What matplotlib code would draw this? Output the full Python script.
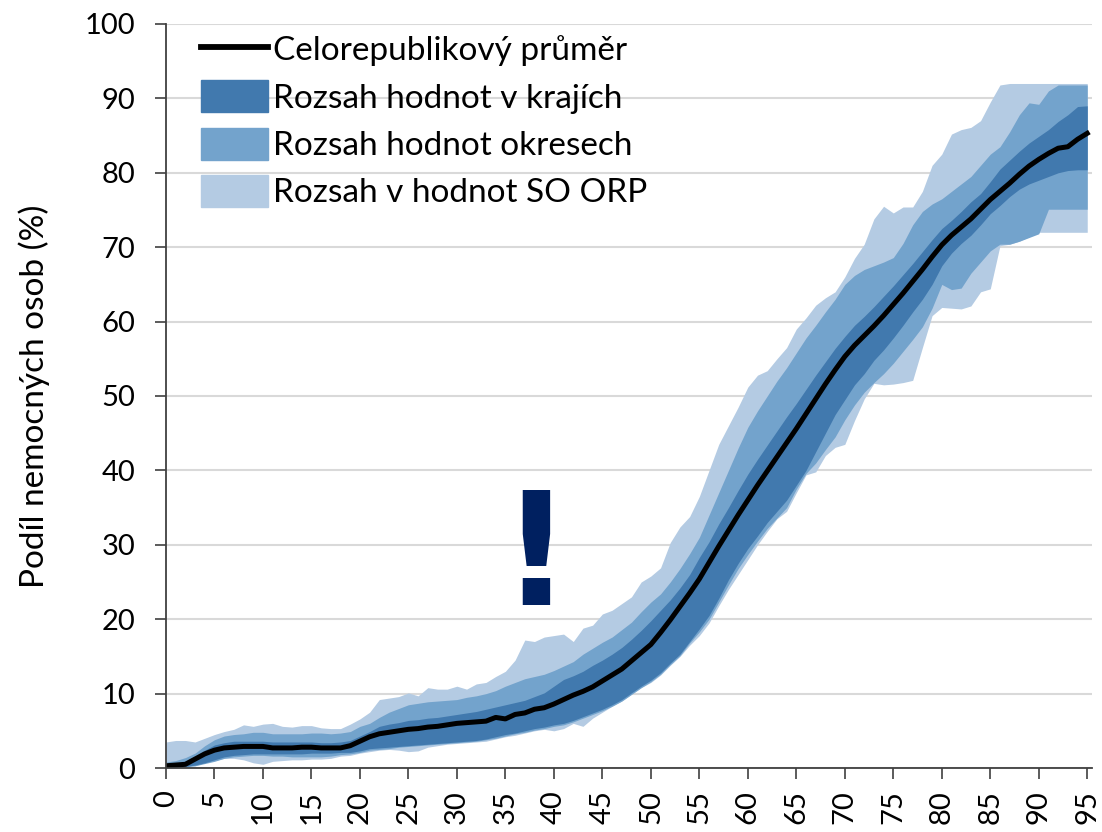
import numpy as np
import matplotlib
matplotlib.use('Agg')
import matplotlib.pyplot as plt
from matplotlib.patches import Patch
from matplotlib.lines import Line2D

# Age 0..95
ages = list(range(96))

mean_cr = [0.3, 0.4, 0.5, 1.2, 1.9, 2.4, 2.7, 2.8, 2.9, 2.9,
           2.9, 2.7, 2.7, 2.7, 2.8, 2.8, 2.7, 2.7, 2.7, 3.0,
           3.6, 4.2, 4.6, 4.8, 5.0, 5.2, 5.3, 5.5, 5.6, 5.8,
           6.0, 6.1, 6.2, 6.3, 6.8, 6.6, 7.2, 7.4, 7.9, 8.1,
           8.6, 9.2, 9.8, 10.3, 10.9, 11.7, 12.5, 13.3, 14.4, 15.5,
           16.6, 18.2, 19.9, 21.7, 23.5, 25.4, 27.6, 29.8, 31.9, 34.0,
           36.0, 38.0, 39.9, 41.8, 43.7, 45.6, 47.6, 49.6, 51.6, 53.5,
           55.3, 56.8, 58.1, 59.4, 60.8, 62.3, 63.8, 65.4, 67.0, 68.7,
           70.3, 71.6, 72.7, 73.8, 75.1, 76.4, 77.5, 78.6, 79.8, 80.9,
           81.8, 82.6, 83.3, 83.5, 84.5, 85.3]

kraj_lo = [0.1, 0.1, 0.2, 0.4, 0.7, 1.1, 1.5, 1.7, 1.8, 1.9,
           1.9, 1.9, 1.9, 1.9, 1.9, 2.0, 2.0, 2.0, 2.1, 2.1,
           2.3, 2.6, 2.7, 2.8, 2.9, 3.0, 3.1, 3.2, 3.3, 3.4,
           3.5, 3.6, 3.7, 3.9, 4.2, 4.5, 4.7, 5.0, 5.3, 5.5,
           5.8, 6.0, 6.4, 6.9, 7.4, 7.9, 8.5, 9.2, 10.1, 11.0,
           11.8, 12.8, 14.1, 15.3, 17.0, 18.7, 20.5, 22.8, 25.3, 27.5,
           29.5, 31.2, 33.0, 34.5, 36.0, 38.0, 40.0, 42.5, 45.0, 47.5,
           49.5, 51.5, 53.0, 54.8, 56.2, 57.8, 59.5, 61.3, 63.0, 65.0,
           67.5, 69.2, 70.5, 71.6, 73.0, 74.5, 75.6, 76.8, 77.8, 78.5,
           79.0, 79.5, 80.0, 80.3, 80.4, 80.4]

kraj_hi = [0.5, 0.6, 0.9, 1.6, 2.4, 3.1, 3.4, 3.6, 3.6, 3.6,
           3.6, 3.5, 3.5, 3.5, 3.5, 3.5, 3.4, 3.4, 3.5, 3.7,
           4.3, 4.9, 5.6, 5.9, 6.1, 6.4, 6.5, 6.7, 6.8, 7.0,
           7.2, 7.4, 7.6, 7.9, 8.2, 8.5, 8.8, 9.1, 9.6, 10.1,
           11.0, 11.9, 12.4, 13.0, 13.8, 14.5, 15.3, 16.2, 17.3, 18.5,
           19.8, 21.2, 22.6, 24.2, 26.0, 28.3, 30.4, 32.8, 35.0, 37.3,
           39.5, 41.5, 43.4, 45.3, 47.2, 49.0, 50.9, 52.8, 54.6, 56.4,
           58.0, 59.5, 60.7, 62.0, 63.4, 64.8, 66.3, 67.8, 69.4, 71.0,
           72.5, 73.6, 74.8, 76.1, 77.2, 78.8, 80.5, 81.7, 82.9, 84.0,
           84.9, 85.8, 86.9, 87.8, 88.9, 89.0]

okres_lo = [0.0, 0.1, 0.2, 0.3, 0.6, 0.9, 1.3, 1.5, 1.6, 1.7,
            1.7, 1.6, 1.6, 1.5, 1.5, 1.5, 1.5, 1.6, 1.8, 1.9,
            2.1, 2.4, 2.5, 2.6, 2.8, 2.9, 3.0, 3.1, 3.2, 3.3,
            3.4, 3.5, 3.6, 3.8, 4.0, 4.3, 4.6, 4.8, 5.1, 5.3,
            5.6, 5.8, 6.2, 6.7, 7.2, 7.7, 8.3, 9.0, 9.9, 10.8,
            11.6, 12.6, 13.9, 15.1, 16.8, 18.3, 20.0, 22.3, 24.6, 26.8,
            28.7, 30.5, 32.2, 33.6, 35.0, 37.5, 39.6, 41.0, 42.8, 44.5,
            46.8, 48.8, 50.5, 51.8, 53.0, 54.4, 56.0, 57.6, 59.3, 61.8,
            65.0, 64.3, 64.5, 66.5, 68.0, 69.5, 70.4, 70.4, 70.8, 71.3,
            71.8, 75.1, 75.1, 75.1, 75.1, 75.1]

okres_hi = [0.8, 1.0, 1.4, 2.0, 3.0, 3.8, 4.3, 4.5, 4.6, 4.8,
            4.8, 4.6, 4.6, 4.6, 4.6, 4.7, 4.7, 4.6, 4.7, 4.9,
            5.6, 6.0, 6.8, 7.5, 8.0, 8.5, 8.7, 8.9, 9.0, 9.1,
            9.2, 9.5, 9.7, 10.0, 10.4, 11.0, 11.5, 12.0, 12.3, 12.6,
            13.1, 13.7, 14.3, 15.3, 16.1, 16.9, 17.6, 18.6, 19.6, 21.0,
            22.3, 23.4, 25.0, 26.8, 28.8, 31.0, 34.0, 37.0, 40.0, 43.0,
            45.8, 48.0, 50.0, 52.0, 53.8, 55.8, 57.8, 59.5, 61.3, 63.0,
            65.0, 66.2, 67.0, 67.5, 68.0, 68.6, 70.5, 73.0, 74.8, 75.8,
            76.5, 77.5, 78.5, 79.5, 81.0, 82.5, 83.5, 85.5, 87.8, 89.4,
            89.2, 91.0, 91.8, 91.8, 91.8, 91.8]

orp_lo = [0.0, 0.0, 0.2, 0.3, 0.7, 1.0, 1.3, 1.3, 1.1, 0.7,
          0.5, 0.9, 1.0, 1.1, 1.1, 1.2, 1.2, 1.3, 1.6, 1.7,
          2.0, 2.2, 2.4, 2.5, 2.4, 2.2, 2.3, 2.8, 3.0, 3.2,
          3.3, 3.4, 3.5, 3.6, 3.9, 4.2, 4.4, 4.7, 5.0, 5.2,
          5.0, 5.3, 6.0, 5.6, 6.7, 7.5, 8.3, 9.0, 9.9, 10.8,
          11.5, 12.5, 13.8, 15.0, 16.5, 17.8, 19.5, 21.8, 24.0, 26.0,
          28.0, 30.0, 31.8, 33.5, 34.5, 37.0, 39.4, 39.8, 42.0, 43.1,
          43.5, 46.7, 49.6, 51.7, 51.5, 51.6, 51.8, 52.1, 56.5, 60.8,
          61.9, 61.8, 61.7, 62.1, 64.0, 64.4, 70.2, 70.4, 70.8, 71.4,
          72.0, 72.0, 72.0, 72.0, 72.0, 72.0]

orp_hi = [3.5, 3.7, 3.7, 3.5, 4.0, 4.5, 4.9, 5.2, 5.8, 5.6,
          5.9, 6.0, 5.6, 5.5, 5.7, 5.7, 5.4, 5.3, 5.3, 5.9,
          6.6, 7.5, 9.2, 9.4, 9.6, 10.1, 9.7, 10.8, 10.6, 10.6,
          11.0, 10.6, 11.3, 11.5, 12.3, 13.0, 14.5, 17.2, 17.0, 17.6,
          17.8, 18.0, 17.0, 18.8, 19.2, 20.7, 21.2, 22.1, 23.0, 25.0,
          25.8, 26.9, 30.3, 32.4, 33.8, 36.5, 40.0, 43.5, 46.0, 48.5,
          51.2, 52.8, 53.4, 55.0, 56.5, 59.0, 60.5, 62.2, 63.2, 64.0,
          66.0, 68.5, 70.4, 73.8, 75.5, 74.6, 75.4, 75.4, 77.5, 81.0,
          82.5, 85.2, 85.8, 86.1, 87.0, 89.5, 91.8, 92.0, 92.0, 92.0,
          92.0, 92.0, 92.0, 92.0, 92.0, 92.0]

labels = ['Celorepublikový průměr', 'Rozsah hodnot v krajích',
          'Rozsah hodnot okresech', 'Rozsah v hodnot SO ORP']

c_dark = '#4179ae'
c_mid = '#73a3cc'
c_light = '#b4cbe3'

plt.rcParams['font.family'] = ['Lato', 'DejaVu Sans']

fig = plt.figure(figsize=(11.02, 8.32), dpi=100)
ax = fig.add_axes([0.1506, 0.0769, 0.8404, 0.8943])

ax.fill_between(ages, orp_lo, orp_hi, color=c_light, lw=0)
ax.fill_between(ages, okres_lo, okres_hi, color=c_mid, lw=0)
ax.fill_between(ages, kraj_lo, kraj_hi, color=c_dark, lw=0)
ax.plot(ages, mean_cr, color='black', lw=3.6, solid_joinstyle='round')

ax.text(38.1, 27.7, '!', color='#002060', fontsize=112, fontweight='bold',
        family='DejaVu Sans', ha='center', va='center')

ax.set_xlim(0, 95.5)
ax.set_ylim(0, 100)
ax.set_xticks(range(0, 96, 5))
ax.set_xticklabels([str(a) for a in range(0, 96, 5)], rotation=90)
ax.set_yticks(range(0, 101, 10))
ax.tick_params(axis='both', labelsize=21, length=8, width=1.2, color='#404040')
ax.tick_params(axis='x', pad=8)
ax.tick_params(axis='y', pad=14)
ax.set_ylabel('Podíl nemocných osob (%)', fontsize=24, labelpad=25)

ax.yaxis.grid(True, color='#d9d9d9', lw=1.5)
ax.set_axisbelow(True)
for s in ['top', 'right']:
    ax.spines[s].set_visible(False)
for s in ['left', 'bottom']:
    ax.spines[s].set_color('#404040')
    ax.spines[s].set_linewidth(1.3)

handles = [Line2D([0], [0], color='black', lw=4.2),
           Patch(color=c_dark), Patch(color=c_mid), Patch(color=c_light)]
ax.legend(handles, labels, loc='upper left', bbox_to_anchor=(0.038, 0.988),
          frameon=False, fontsize=24, handlelength=2.0, handleheight=1.1,
          labelspacing=0.42, handletextpad=0.15, borderaxespad=0, borderpad=0)

plt.savefig('out.png', dpi=100)
